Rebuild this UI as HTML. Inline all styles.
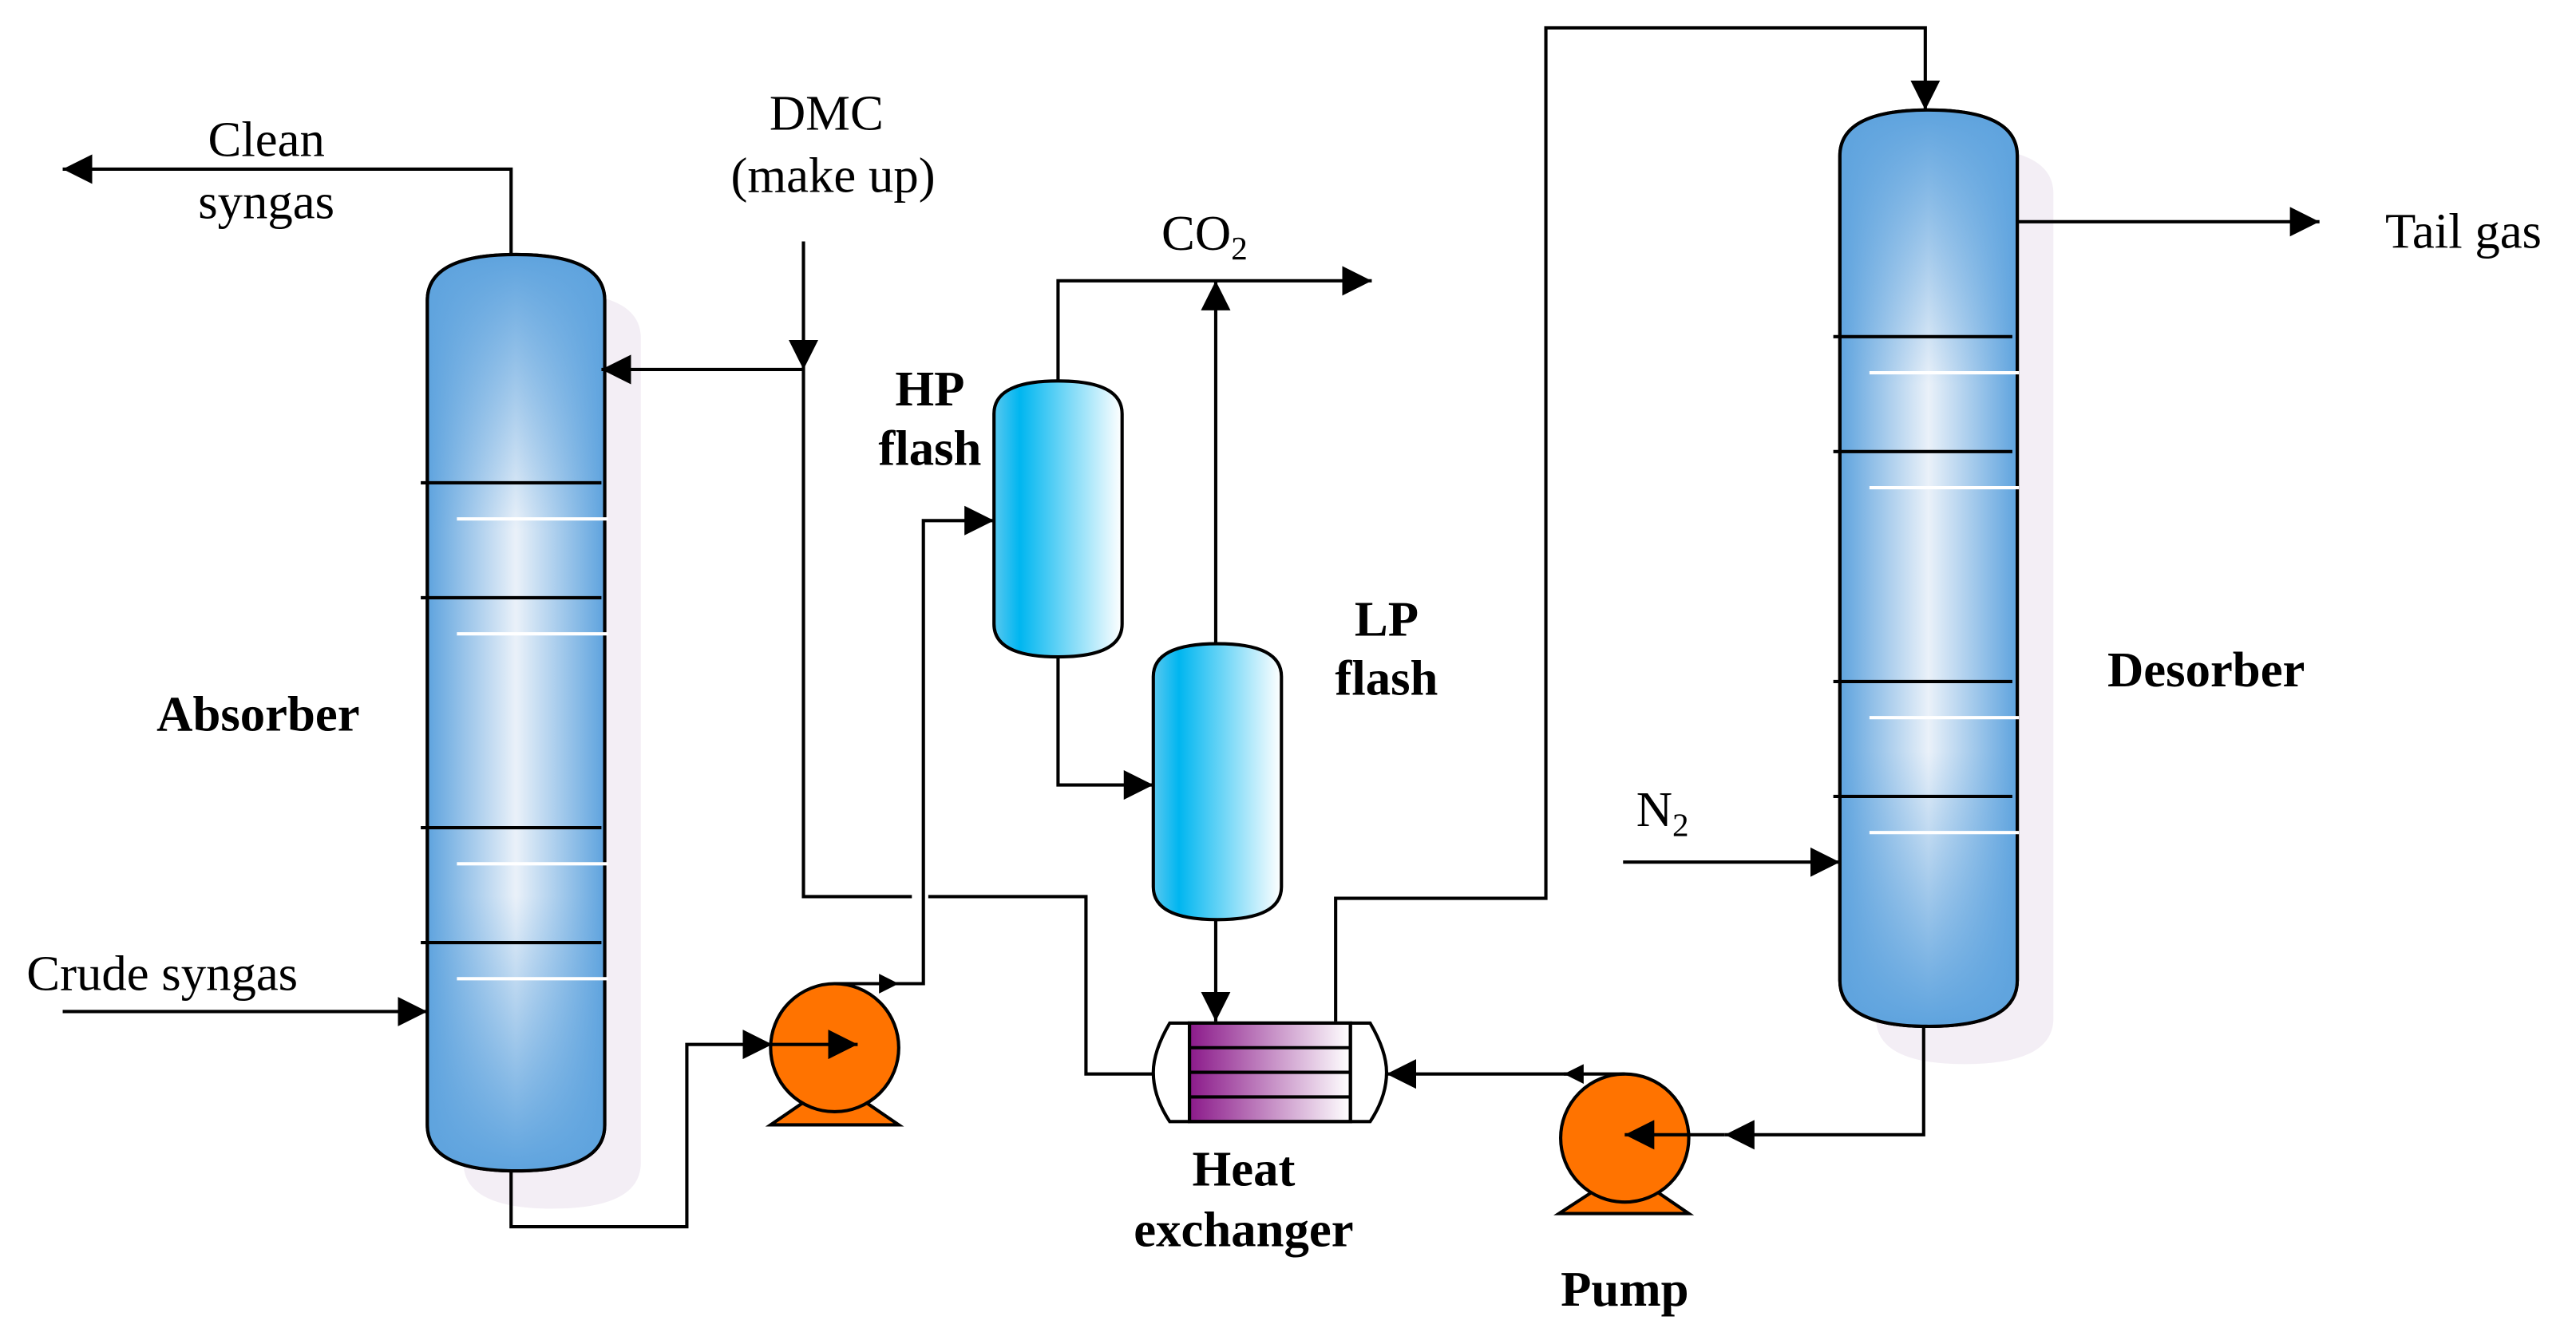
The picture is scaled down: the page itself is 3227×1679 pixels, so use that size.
<!DOCTYPE html>
<html><head><meta charset="utf-8"><style>
html,body{margin:0;padding:0;background:#fff;}
svg{display:block;}
text{font-family:"Liberation Serif",serif;fill:#000;}
.b{font-weight:bold;}
</style></head><body>
<svg width="3227" height="1679" viewBox="0 0 1568 816" xmlns="http://www.w3.org/2000/svg">
<defs>
<linearGradient id="col" x1="0" y1="0" x2="1" y2="0">
<stop offset="0" stop-color="#5ea3de"/><stop offset="0.5" stop-color="#eaf1f9"/><stop offset="1" stop-color="#5ea3de"/>
</linearGradient>
<linearGradient id="colv" x1="0" y1="0" x2="0" y2="1">
<stop offset="0" stop-color="#5ea3de" stop-opacity="1"/><stop offset="0.3" stop-color="#5ea3de" stop-opacity="0"/><stop offset="0.7" stop-color="#5ea3de" stop-opacity="0"/><stop offset="1" stop-color="#5ea3de" stop-opacity="1"/>
</linearGradient>
<linearGradient id="fl" x1="0" y1="0" x2="1" y2="0">
<stop offset="0" stop-color="#5ac8ef"/><stop offset="0.2" stop-color="#00b6f0"/><stop offset="1" stop-color="#ffffff"/>
</linearGradient>
<linearGradient id="hx" x1="0" y1="0" x2="1" y2="0">
<stop offset="0" stop-color="#8b1a8a"/><stop offset="1" stop-color="#ffffff"/>
</linearGradient>
<marker id="a" viewBox="0 0 10 10" refX="10" refY="5" markerWidth="18" markerHeight="18" markerUnits="userSpaceOnUse" orient="auto">
<path d="M0,0 L10,5 L0,10 z" fill="#000"/></marker>
<marker id="s" viewBox="0 0 10 10" refX="10" refY="5" markerWidth="12" markerHeight="12" markerUnits="userSpaceOnUse" orient="auto">
<path d="M0,0 L10,5 L0,10 z" fill="#000"/></marker>
</defs>
<g stroke="#000" stroke-width="2" fill="none">
<!-- Absorber -->
<path d="M282,206 Q282,178 336,178 Q390,178 390,206 L390,708 Q390,736 336,736 Q282,736 282,708 Z" fill="#f3eef5" stroke="none"/>
<path d="M260,183 Q260,155 314,155 Q368,155 368,183 L368,685 Q368,713 314,713 Q260,713 260,685 Z" fill="url(#col)"/>
<path d="M260,183 Q260,155 314,155 Q368,155 368,183 L368,685 Q368,713 314,713 Q260,713 260,685 Z" fill="url(#colv)"/>
<path d="M256,294H366M256,364H366M256,504H366M256,574H366"/>
<path d="M278,316H370M278,386H370M278,526H370M278,596H370" stroke="#fff"/>
<!-- Desorber -->
<path d="M1142,118 Q1142,90 1196,90 Q1250,90 1250,118 L1250,620 Q1250,648 1196,648 Q1142,648 1142,620 Z" fill="#f3eef5" stroke="none"/>
<path d="M1120,95 Q1120,67 1174,67 Q1228,67 1228,95 L1228,597 Q1228,625 1174,625 Q1120,625 1120,597 Z" fill="url(#col)"/>
<path d="M1120,95 Q1120,67 1174,67 Q1228,67 1228,95 L1228,597 Q1228,625 1174,625 Q1120,625 1120,597 Z" fill="url(#colv)"/>
<path d="M1116,205H1225M1116,275H1225M1116,415H1225M1116,485H1225"/>
<path d="M1138,227H1229M1138,297H1229M1138,437H1229M1138,507H1229" stroke="#fff"/>
<!-- flashes -->
<path d="M605,252 Q605,232 644,232 Q683,232 683,252 L683,380 Q683,400 644,400 Q605,400 605,380 Z" fill="url(#fl)"/>
<path d="M702,412 Q702,392 741,392 Q780,392 780,412 L780,540 Q780,560 741,560 Q702,560 702,540 Z" fill="url(#fl)"/>
<!-- heat exchanger -->
<rect x="724" y="623" width="98" height="60" fill="url(#hx)"/>
<path d="M724,623H822V683H724Z"/>
<path d="M724,638H822M724,653H822M724,668H822"/>
<path d="M724,623H712Q702,640 702,653Q702,668 712,683H724"/>
<path d="M822,623H834Q844,640 844,653Q844,668 834,683H822"/>
<!-- pumps -->
<path d="M488,672 L469,685 L547,685 L528,672 Z" fill="#ff7300"/>
<circle cx="508" cy="638" r="39" fill="#ff7300"/>
<path d="M969,726 L949,739 L1028,739 L1009,726 Z" fill="#ff7300"/>
<circle cx="989" cy="693" r="39" fill="#ff7300"/>
<!-- lines -->
<path d="M311,155V103H38" marker-end="url(#a)"/>
<path d="M489,147V225" marker-end="url(#a)"/>
<path d="M489,225H366" marker-end="url(#a)"/>
<path d="M489,225V546H555M565,546H661V654H702"/>
<path d="M38,616H260" marker-end="url(#a)"/>
<path d="M311,713V747H418V636H470" marker-end="url(#a)"/>
<path d="M470,636H522" marker-end="url(#a)"/>
<path d="M508,599H547" marker-end="url(#s)"/>
<path d="M545,599H562V317H605" marker-end="url(#a)"/>
<path d="M644,232V171H835" marker-end="url(#a)"/>
<path d="M740,392V171" marker-end="url(#a)"/>
<path d="M644,400V478H702" marker-end="url(#a)"/>
<path d="M740,560V622" marker-end="url(#a)"/>
<path d="M813,622V547H941V17H1172V67" marker-end="url(#a)"/>
<path d="M1228,135H1412" marker-end="url(#a)"/>
<path d="M988,525H1120" marker-end="url(#a)"/>
<path d="M1171,625V691H1050" marker-end="url(#a)"/>
<path d="M1050,691H989" marker-end="url(#a)"/>
<path d="M989,654H952" marker-end="url(#s)"/>
<path d="M960,654H844" marker-end="url(#a)"/>
</g>
<g font-size="30.5">
<text x="162" y="95" text-anchor="middle">Clean</text>
<text x="162" y="133" text-anchor="middle">syngas</text>
<text x="503" y="79" text-anchor="middle">DMC</text>
<text x="507" y="117" text-anchor="middle">(make up)</text>
<text x="707" y="152">CO<tspan font-size="20" dy="6">2</tspan></text>
<text x="16" y="603">Crude syngas</text>
<text x="1452" y="151">Tail gas</text>
<text x="996" y="503">N<tspan font-size="20" dy="6">2</tspan></text>
<text class="b" x="566" y="247" text-anchor="middle">HP</text>
<text class="b" x="566" y="283" text-anchor="middle">flash</text>
<text class="b" x="844" y="387" text-anchor="middle">LP</text>
<text class="b" x="844" y="423" text-anchor="middle">flash</text>
<text class="b" x="157" y="445" text-anchor="middle">Absorber</text>
<text class="b" x="1343" y="418" text-anchor="middle">Desorber</text>
<text class="b" x="757" y="722" text-anchor="middle">Heat</text>
<text class="b" x="757" y="759" text-anchor="middle">exchanger</text>
<text class="b" x="989" y="795" text-anchor="middle">Pump</text>
</g>
</svg>
</body></html>
